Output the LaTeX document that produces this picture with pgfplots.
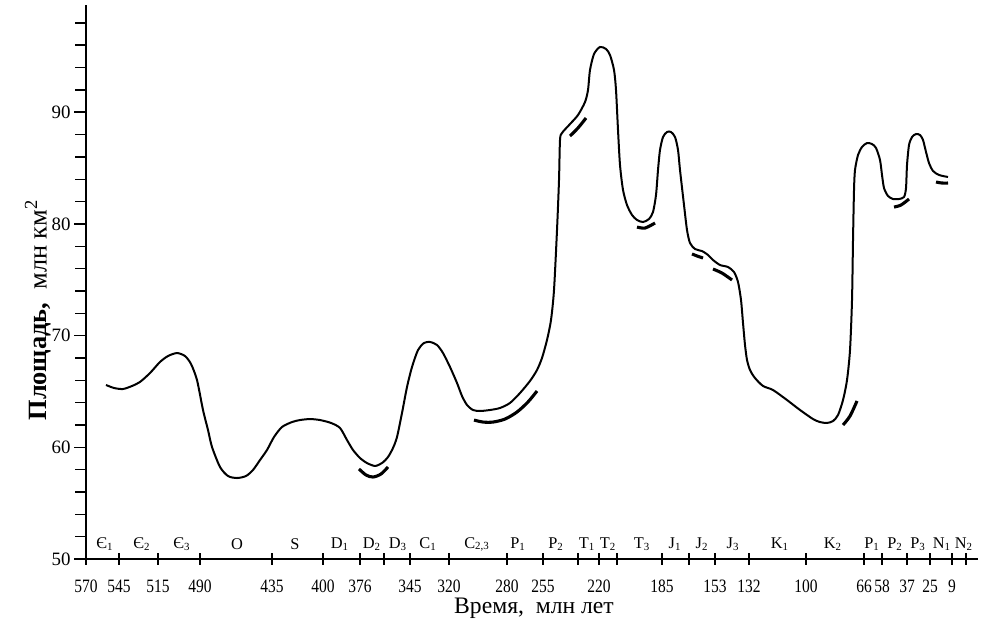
\documentclass[border=0pt]{standalone}
\usepackage{fontspec}
\setmainfont{Liberation Serif}
\usepackage{pgfplots}
\pgfplotsset{compat=1.18}
\newcommand{\per}[3]{\node[font=\small, inner sep=0pt] at (axis cs:#1,51.3) {#2\textsubscript{#3}};}
\begin{document}
\begin{tikzpicture}
\useasboundingbox (-47.3pt,-34.65pt) rectangle (506pt,307.45pt);
\begin{axis}[
  anchor=south west, at={(0,0)},
  scale only axis,
  width=490.6pt, height=304.7pt,
  xmin=86, xmax=978, ymin=50, ymax=99.6,
  axis x line=bottom, axis y line=left,
  axis line style={line width=1pt, -},
  clip=false,
  xtick={86,119,158,200,272,323,360,384,410,449,507,543,578,599,617,662,689,715,749,806,864,882,907,930,952,966},
  xticklabels={570,545,515,490,435,400,376,,345,320,280,255,,220,,{185\hspace{12pt}},,153,132,100,66,58,{37\hspace{3pt}},{25\hspace{5pt}},{9\hspace{2pt}},},
  ytick={50,60,70,80,90},
  minor ytick={52,54,...,98},
  tick align=outside,
  major tick length=6.5pt, minor tick length=6pt,
  tick style={black, line width=0.8pt},
  x tick style={yshift=3.25pt},
  /pgf/number format/assume math mode=true,
  ticklabel style={font=\fontsize{10.4}{12}\selectfont},
  xticklabel style={anchor=north, text height=6.9pt, text depth=0pt, inner sep=0pt, yshift=-4.6pt, xscale=0.82},
  yticklabel style={xshift=1.5pt},
]
\addplot[black, line width=1.1pt, smooth, tension=0.45] coordinates {
(106,65.58) (114,65.31) (123,65.22) (132,65.49) (140,65.85) (150,66.65) (160,67.64) (168,68.17)
(177,68.44) (185,68.17) (191,67.46) (197,66.02) (203,63.34) (208,61.55) (212,60.03) (220,58.24)
(228,57.43) (237,57.25) (246,57.43) (253,57.97) (260,58.86) (267,59.76) (274,60.92) (282,61.82)
(292,62.26) (300,62.44) (310,62.53) (320,62.44) (331,62.18) (340,61.73) (347,60.65) (353,59.76)
(360,59.04) (367,58.59) (375,58.33) (382,58.59) (388,59.13) (393,59.94) (397,60.92) (402,63.07)
(407,65.40) (412,67.19) (418,68.71) (424,69.34) (430,69.43) (437,69.16) (443,68.44) (450,67.19)
(457,65.76) (462,64.59) (467,63.79) (473,63.34) (480,63.25) (490,63.34) (500,63.52) (510,63.97)
(520,64.86) (530,65.94) (537,66.92) (542,68.00) (547,69.61) (551,71.40) (554,74.08) (557,79.45)
(559,83.93) (560,87.51) (562,88.14) (570,88.94) (578,89.75) (585,90.91) (588,91.99) (590,93.78)
(594,95.21) (600,95.84) (606,95.66) (610,95.12) (614,93.78) (616,91.99) (618,88.41) (620,85.27)
(623,83.04) (627,81.69) (632,80.80) (637,80.35) (643,80.17) (649,80.44) (653,81.07) (656,82.59)
(658,84.83) (660,86.62) (663,87.78) (667,88.23) (671,88.23) (675,87.78) (678,86.62) (680,84.83)
(684,81.69) (687,79.45) (690,78.29) (695,77.75) (702,77.57) (708,77.22) (713,76.77) (720,76.32)
(728,76.14) (734,75.69) (738,74.80) (741,73.19) (743,71.13) (745,69.16) (747,67.82) (750,66.92)
(755,66.20) (763,65.49) (773,65.13) (787,64.23) (800,63.34) (813,62.53) (820,62.26) (827,62.18)
(833,62.35) (838,62.89) (843,64.23) (847,66.02) (850,68.71) (852,73.19) (853,78.56) (854,83.04)
(855,84.83) (858,86.17) (862,86.89) (867,87.24) (872,87.15) (876,86.80) (880,85.72) (882,84.38)
(884,83.21) (888,82.50) (893,82.23) (899,82.23) (904,82.41) (906,83.21) (907,85.27) (909,87.06)
(912,87.78) (916,88.05) (920,87.96) (923,87.51) (926,86.44) (929,85.45) (933,84.74) (939,84.38)
(948,84.20)
};
\addplot[black, line width=1.7pt, smooth] coordinates {(359,58.06) (366,57.52) (373,57.34) (381,57.61) (388,58.24)};
\addplot[black, line width=1.7pt, smooth] coordinates {(474,62.44) (483,62.26) (493,62.26) (505,62.53) (517,63.16) (528,64.06) (537,65.04)};
\addplot[black, line width=1.7pt, smooth] coordinates {(570,87.87) (578,88.59) (586,89.48)};
\addplot[black, line width=1.7pt, smooth] coordinates {(637,79.72) (645,79.63) (655,80.08)};
\addplot[black, line width=1.7pt, smooth] coordinates {(692,77.31) (697,77.13) (703,76.95)};
\addplot[black, line width=1.7pt, smooth] coordinates {(713,75.96) (722,75.60) (732,74.98)};
\addplot[black, line width=1.7pt, smooth] coordinates {(843,62.00) (850,62.80) (857,64.15)};
\addplot[black, line width=1.7pt, smooth] coordinates {(894,81.51) (901,81.69) (909,82.23)};
\addplot[black, line width=1.7pt, smooth] coordinates {(936,83.75) (942,83.66) (948,83.66)};
\per{105}{Є}{1}\per{142}{Є}{2}\per{182}{Є}{3}
\node[font=\small, inner sep=0pt] at (axis cs:237,51.3) {O};
\node[font=\small, inner sep=0pt] at (axis cs:295,51.3) {S};
\per{340}{D}{1}\per{372}{D}{2}\per{398}{D}{3}\per{428}{C}{1}\per{477}{C}{2,3}
\per{518}{P}{1}\per{556}{P}{2}\per{587}{T}{1}\per{608}{T}{2}\per{642}{T}{3}
\per{675}{J}{1}\per{702}{J}{2}\per{733}{J}{3}\per{780}{K}{1}\per{833}{K}{2}
\per{872}{P}{1}\per{895}{P}{2}\per{918}{P}{3}\per{942}{N}{1}\per{964}{N}{2}
\node[inner sep=0pt, font=\fontsize{13}{15}\selectfont] at (axis cs:534,50) [yshift=-27.3pt] {Время,\ \ млн лет};
\node[inner sep=0pt, rotate=90, font=\fontsize{14.5}{16}\selectfont] at (axis cs:38,72.3) {\textbf{Площадь,}\ \ млн км\textsuperscript{2}};
\end{axis}
\end{tikzpicture}
\end{document}
